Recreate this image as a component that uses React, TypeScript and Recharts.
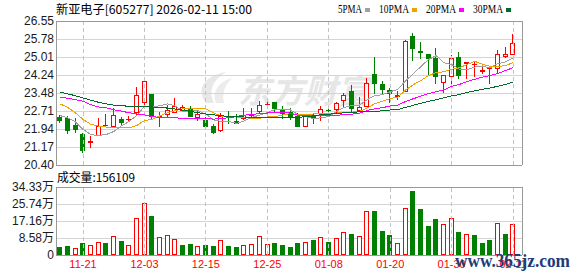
import React from 'react';
import {
  ComposedChart,
  Bar,
  Line,
  XAxis,
  YAxis,
  CartesianGrid,
  ReferenceLine,
} from 'recharts';

// ---------- data ----------
const dates = [
  '11-18', '11-19', '11-20', '11-21', '11-24', '11-25', '11-26', '11-27', '11-28', '12-01',
  '12-02', '12-03', '12-04', '12-05', '12-08', '12-09', '12-10', '12-11', '12-12', '12-15',
  '12-16', '12-17', '12-18', '12-19', '12-22', '12-23', '12-24', '12-25', '12-26', '12-29',
  '12-30', '12-31', '01-05', '01-06', '01-07', '01-08', '01-09', '01-12', '01-13', '01-14',
  '01-15', '01-16', '01-19', '01-20', '01-21', '01-22', '01-23', '01-26', '01-27', '01-28',
  '01-29', '01-30', '02-02', '02-03', '02-04', '02-05', '02-06', '02-09', '02-10', '02-11',
];

const opens = [
  22.46, 22.39, 22.11, 21.71, 21.33, 21.62, 22.10, 22.01, 22.38, 22.35,
  22.61, 23.04, 23.43, 22.42, 22.52, 22.61, 22.72, 22.85, 22.42, 22.33,
  22.07, 21.84, 22.48, 22.29, 22.35, 22.49, 22.65, 22.95, 23.09, 22.78,
  22.66, 22.49, 22.04, 22.54, 22.57, 22.75, 22.75, 23.15, 23.56, 22.72,
  22.89, 24.29, 23.86, 23.60, 23.32, 23.53, 25.91, 25.28, 25.14, 24.96,
  23.89, 24.15, 25.00, 24.70, 24.69, 24.36, 24.48, 24.49, 25.03, 25.09,
];
const highs = [
  22.52, 22.49, 22.39, 21.75, 21.64, 22.39, 22.57, 22.82, 22.44, 22.49,
  23.72, 23.99, 23.45, 22.68, 22.95, 23.25, 22.96, 22.92, 22.75, 22.44,
  22.15, 22.61, 22.72, 22.58, 22.82, 22.85, 23.15, 23.15, 23.09, 22.92,
  22.82, 22.64, 22.57, 22.64, 22.92, 22.92, 23.11, 23.46, 23.82, 23.29,
  24.13, 25.03, 23.99, 23.68, 23.56, 25.74, 26.02, 25.65, 25.16, 25.41,
  24.23, 25.10, 25.21, 24.80, 24.81, 24.67, 24.56, 25.31, 25.45, 25.99,
];
const lows = [
  22.18, 21.72, 21.78, 20.93, 21.11, 21.62, 22.04, 22.01, 22.07, 22.25,
  22.51, 22.82, 22.38, 22.01, 22.46, 22.61, 22.68, 22.46, 22.29, 21.97,
  21.71, 21.81, 22.14, 22.15, 22.33, 22.38, 22.57, 22.80, 22.68, 22.35,
  22.33, 22.01, 22.04, 22.14, 22.29, 22.61, 22.61, 22.87, 22.68, 22.68,
  22.89, 23.43, 23.43, 23.04, 23.18, 23.53, 24.85, 24.91, 24.20, 23.86,
  23.49, 23.82, 24.06, 24.09, 24.17, 24.29, 23.85, 24.32, 24.96, 25.09,
];
const closes = [
  22.29, 21.87, 21.90, 21.01, 21.44, 22.08, 22.06, 22.55, 22.21, 22.38,
  23.38, 23.97, 22.46, 22.48, 22.75, 22.92, 22.87, 22.46, 22.58, 22.01,
  21.75, 22.51, 22.44, 22.15, 22.54, 22.57, 22.96, 22.99, 22.78, 22.58,
  22.46, 22.01, 22.49, 22.37, 22.78, 22.71, 23.04, 23.39, 22.78, 22.87,
  23.89, 23.86, 23.60, 23.43, 23.39, 25.71, 25.34, 25.20, 24.91, 24.17,
  24.23, 24.96, 24.20, 24.80, 24.73, 24.46, 24.53, 25.13, 25.14, 25.60,
];

const ma5 = [
  22.51, 22.42, 22.25, 21.92, 21.70, 21.66, 21.70, 21.83, 22.07, 22.26,
  22.52, 22.90, 22.88, 22.93, 23.01, 22.92, 22.70, 22.70, 22.72, 22.57,
  22.33, 22.26, 22.26, 22.17, 22.28, 22.44, 22.53, 22.64, 22.77, 22.78,
  22.75, 22.56, 22.46, 22.38, 22.42, 22.47, 22.68, 22.86, 22.94, 22.96,
  23.19, 23.36, 23.40, 23.53, 23.63, 24.00, 24.29, 24.61, 24.91, 25.07,
  24.77, 24.69, 24.49, 24.47, 24.58, 24.63, 24.54, 24.73, 24.80, 24.97,
];
const ma10 = [
  23.01, 22.86, 22.63, 22.35, 22.14, 22.06, 22.02, 22.00, 21.99, 21.98,
  22.09, 22.30, 22.35, 22.50, 22.63, 22.72, 22.80, 22.79, 22.83, 22.79,
  22.63, 22.48, 22.48, 22.45, 22.43, 22.39, 22.40, 22.45, 22.47, 22.53,
  22.60, 22.55, 22.55, 22.58, 22.60, 22.61, 22.62, 22.66, 22.66, 22.69,
  22.83, 23.02, 23.13, 23.24, 23.30, 23.60, 23.83, 24.01, 24.22, 24.35,
  24.38, 24.49, 24.55, 24.69, 24.83, 24.70, 24.62, 24.61, 24.64, 24.78,
];
const ma20 = [
  23.29, 23.25, 23.19, 23.12, 22.98, 22.88, 22.84, 22.76, 22.70, 22.63,
  22.58, 22.54, 22.47, 22.43, 22.41, 22.41, 22.40, 22.39, 22.38, 22.38,
  22.36, 22.39, 22.42, 22.47, 22.53, 22.55, 22.60, 22.62, 22.65, 22.66,
  22.61, 22.52, 22.52, 22.51, 22.51, 22.50, 22.51, 22.56, 22.57, 22.61,
  22.73, 22.80, 22.85, 22.92, 22.96, 23.11, 23.23, 23.34, 23.45, 23.53,
  23.61, 23.76, 23.84, 23.96, 24.06, 24.15, 24.22, 24.31, 24.43, 24.56,
];
const ma30 = [
  23.52, 23.44, 23.36, 23.26, 23.17, 23.08, 23.01, 22.96, 22.93, 22.91,
  22.90, 22.89, 22.88, 22.86, 22.83, 22.79, 22.74, 22.69, 22.63, 22.58,
  22.54, 22.50, 22.48, 22.46, 22.45, 22.44, 22.43, 22.43, 22.43, 22.43,
  22.44, 22.44, 22.46, 22.50, 22.55, 22.57, 22.60, 22.63, 22.65, 22.67,
  22.68, 22.68, 22.72, 22.75, 22.77, 22.86, 22.95, 23.04, 23.12, 23.19,
  23.27, 23.35, 23.41, 23.50, 23.57, 23.63, 23.69, 23.76, 23.84, 23.94,
];

// volume in 万 (10k lots)
const volumes = [
  4.2, 4.7, 3.5, 6.1, 5.0, 6.4, 6.1, 9.4, 7.1, 5.0,
  18.5, 26.1, 19.7, 8.9, 9.9, 7.9, 5.0, 5.6, 4.5, 5.0,
  4.5, 7.4, 4.5, 4.0, 4.9, 5.4, 9.4, 5.4, 5.9, 4.9,
  4.0, 5.9, 6.4, 7.4, 8.9, 6.6, 8.4, 11.4, 10.6, 9.6,
  22.2, 22.2, 12.1, 10.1, 5.9, 23.6, 32.3, 23.2, 14.6, 18.2,
  15.5, 18.5, 11.4, 10.4, 10.1, 5.9, 7.6, 16.0, 10.6, 15.6109,
];
// 1 = rising day (red hollow), 0 = falling day (green)
const volUp = [
  0, 0, 1, 0, 1, 1, 0, 1, 0, 1,
  1, 1, 0, 1, 1, 1, 0, 0, 1, 0,
  0, 1, 0, 0, 1, 1, 1, 1, 0, 0,
  0, 0, 1, 0, 1, 0, 1, 1, 0, 1,
  1, 0, 0, 0, 1, 1, 0, 0, 0, 0,
  1, 1, 0, 1, 0, 0, 0, 1, 0, 1,
];

const priceTicks = [20.4, 21.16875, 21.9375, 22.70625, 23.475, 24.24375, 25.0125, 25.78125, 26.55];
const priceLabels = ['20.40', '21.17', '21.94', '22.71', '23.48', '24.24', '25.01', '25.78', '26.55'];
const volTicks = [0, 8.5825, 17.165, 25.7475, 34.33];
const volLabels = ['0', '8.58万', '17.16万', '25.74万', '34.33万'];
const xTicks = [3, 11, 19, 27, 35, 43, 51, 59];

const title = '新亚电子[605277] 2026-02-11 15:00';
const volTitle = '成交量:156109';
const legendItems = [
  { label: '5PMA', color: '#a0a0a0' },
  { label: '10PMA', color: '#f0a000' },
  { label: '20PMA', color: '#ff00ff' },
  { label: '30PMA', color: '#006a2c' },
];

// ---------- styling ----------
const RED = '#ff0000';
const GREEN = '#008000';
const MA_COLORS = { ma5: '#a0a0a0', ma10: '#f0a000', ma20: '#ff00ff', ma30: '#006a2c' };
const X_DOMAIN: [number, number] = [-0.52, 60.16];
const FONT = '"Liberation Sans", Arial, "Noto Sans CJK SC", sans-serif';
const CJK = '"Noto Sans CJK SC", "Liberation Sans", sans-serif';

const rows = dates.map((d, i) => ({
  i,
  date: d,
  open: opens[i],
  high: highs[i],
  low: lows[i],
  close: closes[i],
  range: [lows[i], highs[i]],
  ma5: ma5[i],
  ma10: ma10[i],
  ma20: ma20[i],
  ma30: ma30[i],
  vol: volumes[i],
  up: volUp[i],
}));

const Candle = (props: any) => {
  const { x, y, width, height, payload } = props;
  if (x == null || y == null || !payload) return null;
  const { open, close, high, low } = payload;
  const top = Math.min(y, y + height);
  const h = Math.abs(height);
  const k = h / (high - low || 1);
  const cx = Math.floor(x + width / 2) + 0.5;
  const yo = top + (high - open) * k;
  const yc = top + (high - close) * k;
  const bt = Math.round(Math.min(yo, yc));
  const bb = Math.round(Math.max(yo, yc));
  const yh = Math.round(top);
  const yl = Math.round(top + h);
  const isUp = close >= open;
  const color = isUp ? RED : GREEN;
  if (!isUp) {
    return (
      <g shapeRendering="crispEdges">
        <line x1={cx} x2={cx} y1={yh} y2={yl} stroke={color} strokeWidth={1} />
        <rect x={cx - 2.5} y={bt} width={5} height={Math.max(1, bb - bt)} fill={color} />
      </g>
    );
  }
  const bh = bb - bt;
  return (
    <g shapeRendering="crispEdges">
      {yh < bt && <line x1={cx} x2={cx} y1={yh} y2={bt} stroke={color} strokeWidth={1} />}
      {bb < yl && <line x1={cx} x2={cx} y1={bb} y2={yl} stroke={color} strokeWidth={1} />}
      {bh <= 1 ? (
        <line x1={cx - 2.5} x2={cx + 2.5} y1={bt + 0.5} y2={bt + 0.5} stroke={color} strokeWidth={1} />
      ) : (
        <rect x={cx - 2} y={bt + 0.5} width={4} height={bh - 1} fill="#ffffff" stroke={color} strokeWidth={1} />
      )}
    </g>
  );
};

const VolBar = (props: any) => {
  const { x, y, width, height, payload } = props;
  if (x == null || y == null || !payload) return null;
  const cx = Math.floor(x + width / 2) + 0.5;
  const t = Math.round(Math.min(y, y + height));
  const b = Math.round(Math.max(y, y + height));
  if (payload.up) {
    return (
      <rect
        shapeRendering="crispEdges"
        x={cx - 2}
        y={t + 0.5}
        width={4}
        height={Math.max(0, b - t - 1)}
        fill="#ffffff"
        stroke={RED}
        strokeWidth={1}
      />
    );
  }
  return <rect shapeRendering="crispEdges" x={cx - 2.5} y={t} width={5} height={b - t} fill={GREEN} />;
};

const borderProps = { stroke: '#999999', strokeWidth: 1, shapeRendering: 'crispEdges' } as any;
const dashProps = { stroke: '#c4c4c4', strokeWidth: 1, strokeDasharray: '4 3', shapeRendering: 'crispEdges' } as any;

const Legend = () => {
  let x = 338;
  const items: React.ReactNode[] = [];
  legendItems.forEach((it) => {
    const w = it.label.length * 6;
    items.push(
      <text
        key={it.label}
        x={x}
        y={13}
        fontSize={12}
        fontFamily='"Liberation Serif", serif'
        fill="#000"
        textLength={w}
        lengthAdjust="spacingAndGlyphs"
      >
        {it.label}
      </text>
    );
    items.push(<rect key={it.label + 's'} x={x + w + 3} y={8} width={5} height={4} fill={it.color} />);
    x += w + 3 + 5 + 9;
  });
  return <g>{items}</g>;
};

export default function App() {
  const abs: React.CSSProperties = { position: 'absolute', left: 0, top: 0 };
  return (
    <div style={{ position: 'absolute', left: 0, top: 0, width: 578, height: 276, background: '#fff', fontFamily: FONT }}>
      {/* watermark behind */}
      <svg width={578} height={276} style={abs}>
        <path d="M206 103 C196 90 203 76 226 72 C212 80 208 92 214 103 Z" fill="#e8e8e8" />
        <path d="M216 103 C212 92 218 82 232 78 C224 86 222 94 224 103 Z" fill="#ececec" />
        <text x={238} y={103} fontSize={33} fontWeight="bold" fill="#e6e6e6" fontFamily={CJK} fontStyle="italic">
          东方财富
        </text>
      </svg>

      {/* price chart */}
      <div style={abs}>
        <ComposedChart width={578} height={276} data={rows} margin={{ top: 21, right: 56, bottom: 111, left: 0 }}>
          <CartesianGrid vertical={false} stroke="#d4d4d4" shapeRendering="crispEdges" />
          {xTicks.map((t) => (
            <ReferenceLine key={'pv' + t} x={t} {...dashProps} />
          ))}
          <XAxis dataKey="i" type="number" domain={X_DOMAIN} allowDataOverflow hide ticks={xTicks} />
          <YAxis
            type="number"
            domain={[20.4, 26.55]}
            allowDataOverflow
            ticks={priceTicks}
            interval={0}
            tickFormatter={(v: number, idx: number) => priceLabels[idx]}
            width={56}
            tickSize={0}
            tickMargin={2}
            axisLine={false}
            tickLine={false}
            tick={{ fontSize: 12, fill: '#1a1a1a', fontFamily: FONT }}
          />
          <Bar dataKey="range" barSize={5} shape={<Candle />} isAnimationActive={false} />
          <Line type="linear" dataKey="ma5" stroke={MA_COLORS.ma5} strokeWidth={1} dot={false} isAnimationActive={false} shapeRendering="crispEdges" />
          <Line type="linear" dataKey="ma10" stroke={MA_COLORS.ma10} strokeWidth={1} dot={false} isAnimationActive={false} shapeRendering="crispEdges" />
          <Line type="linear" dataKey="ma20" stroke={MA_COLORS.ma20} strokeWidth={1} dot={false} isAnimationActive={false} shapeRendering="crispEdges" />
          <Line type="linear" dataKey="ma30" stroke={MA_COLORS.ma30} strokeWidth={1} dot={false} isAnimationActive={false} shapeRendering="crispEdges" />
          <ReferenceLine y={26.55} {...borderProps} />
          <ReferenceLine y={20.4} {...borderProps} />
          <ReferenceLine x={X_DOMAIN[0]} {...borderProps} />
          <ReferenceLine x={X_DOMAIN[1]} {...borderProps} />
        </ComposedChart>
      </div>

      {/* volume chart */}
      <div style={abs}>
        <ComposedChart width={578} height={276} data={rows} margin={{ top: 187, right: 56, bottom: 0, left: 0 }}>
          <CartesianGrid vertical={false} stroke="#d4d4d4" shapeRendering="crispEdges" />
          {xTicks.map((t) => (
            <ReferenceLine key={'vv' + t} x={t} {...dashProps} />
          ))}
          <XAxis
            dataKey="i"
            type="number"
            domain={X_DOMAIN}
            allowDataOverflow
            ticks={xTicks}
            interval={0}
            tickFormatter={(v: number) => dates[v]}
            height={21}
            tickSize={0}
            tickMargin={5}
            axisLine={false}
            tickLine={false}
            tick={{ fontSize: 11, fill: RED, fontFamily: FONT }}
          />
          <YAxis
            type="number"
            domain={[0, 34.33]}
            allowDataOverflow
            ticks={volTicks}
            interval={0}
            tickFormatter={(v: number, idx: number) => volLabels[idx]}
            width={56}
            tickSize={0}
            tickMargin={2}
            axisLine={false}
            tickLine={false}
            tick={{ fontSize: 12, fill: '#1a1a1a', fontFamily: FONT }}
          />
          <Bar dataKey="vol" barSize={5} shape={<VolBar />} isAnimationActive={false} />
          <ReferenceLine y={34.33} {...borderProps} />
          <ReferenceLine y={0} {...borderProps} />
          <ReferenceLine x={X_DOMAIN[0]} {...borderProps} />
          <ReferenceLine x={X_DOMAIN[1]} {...borderProps} />
        </ComposedChart>
      </div>

      {/* texts on top */}
      <svg width={578} height={276} style={{ ...abs, pointerEvents: 'none' }}>
        <text x={56} y={14} fontSize={12} fontFamily={CJK} fill="#000" textLength={196} lengthAdjust="spacingAndGlyphs">
          {title}
        </text>
        <Legend />
        <text x={57} y={182} fontSize={12} fontFamily={CJK} fill="#000" textLength={78} lengthAdjust="spacingAndGlyphs">
          {volTitle}
        </text>
        <text
          x={455}
          y={267}
          fontSize={18}
          fontWeight="bold"
          fontFamily='"Liberation Serif", serif'
          fill="#1d3c78"
          textLength={115}
          lengthAdjust="spacingAndGlyphs"
        >
          www.365jz.com
        </text>
      </svg>
    </div>
  );
}
